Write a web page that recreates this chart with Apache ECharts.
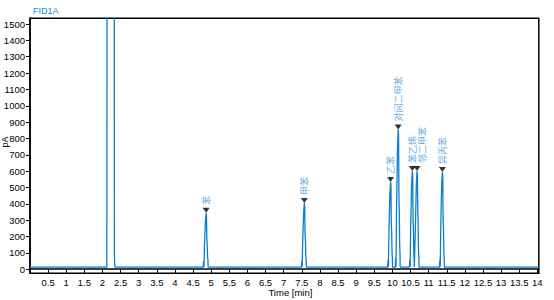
<!DOCTYPE html>
<html>
<head>
<meta charset="utf-8">
<script src="https://cdn.jsdelivr.net/npm/echarts@6/dist/echarts.min.js"></script>
<style>html,body{margin:0;padding:0;background:#fff}#c{width:554px;height:300px}</style>
</head>
<body>
<div id="c"></div>
<script>
// Chromatogram trace: [time (min), signal (pA)]
var signal = [
  [0, 13], [2.12, 13], [2.13, 3000], [2.32, 3000], [2.33, 100], [2.335, 40], [2.34, 15], [2.36, 13],
  [4.78, 13], [4.79, 50], [4.80, 13], [4.815, 150], [4.84, 290], [4.86, 345], [4.87, 320], [4.88, 180], [4.89, 150], [4.90, 70], [4.91, 60], [4.915, 13],
  [7.49, 13], [7.50, 50], [7.51, 13], [7.525, 170], [7.55, 340], [7.57, 405], [7.58, 380], [7.59, 210], [7.60, 180], [7.61, 80], [7.62, 60], [7.625, 13],
  [9.87, 13], [9.88, 60], [9.89, 13], [9.905, 230], [9.93, 460], [9.95, 534], [9.96, 510], [9.97, 280], [9.98, 230], [9.99, 100], [10.0, 70], [10.005, 13],
  [10.08, 13], [10.09, 70], [10.10, 13], [10.115, 370], [10.14, 740], [10.16, 855], [10.17, 820], [10.18, 450], [10.19, 360], [10.20, 150], [10.21, 100], [10.215, 13],
  [10.47, 13], [10.48, 60], [10.49, 13], [10.505, 260], [10.53, 520], [10.55, 601], [10.56, 575], [10.57, 310], [10.58, 260], [10.59, 110], [10.60, 60], [10.605, 13],
  [10.615, 13], [10.635, 260], [10.66, 520], [10.68, 601], [10.69, 575], [10.70, 360], [10.71, 300], [10.72, 120], [10.73, 70], [10.735, 13],
  [11.30, 13], [11.31, 60], [11.32, 13], [11.335, 260], [11.36, 515], [11.38, 595], [11.39, 570], [11.40, 300], [11.41, 250], [11.42, 100], [11.43, 60], [11.435, 13],
  [14.04, 13]
];
// Identified peaks
var peakNames = ['苯', '甲苯', '乙苯', '对间二甲苯', '苯乙烯', '邻二甲苯', '异丙苯'];
var peakTimes = [4.86, 7.57, 9.95, 10.16, 10.55, 10.68, 11.38];
var peakHeights = [345, 405, 534, 855, 601, 601, 595];
// Tick labels
var xTicks = [0.5, 1, 1.5, 2, 2.5, 3, 3.5, 4, 4.5, 5, 5.5, 6, 6.5, 7, 7.5, 8, 8.5, 9, 9.5, 10, 10.5, 11, 11.5, 12, 12.5, 13, 13.5, 14];
var yTicks = [0, 100, 200, 300, 400, 500, 600, 700, 800, 900, 1000, 1100, 1200, 1300, 1400, 1500];
var yAxisTitle = 'pA';

var lineColor = '#0b7fcf';
var labelColor = '#3a96dc';
var axisFont = 'Liberation Sans, Arial, sans-serif';

var markerData = peakNames.map(function (n, i) {
  var item = { value: [peakTimes[i], peakHeights[i]], name: n };
  // offset is in the label's rotated frame: [along text, across text]
  if (n === '邻二甲苯') item.label = { offset: [0, 5] };
  return item;
});

var chart = echarts.init(document.getElementById('c'), null, { renderer: 'svg' });
chart.setOption({
  animation: false,
  backgroundColor: '#ffffff',
  title: {
    text: 'FID1A', left: 33, top: 6, padding: 0,
    textStyle: { color: '#1a8ad4', fontSize: 9, fontWeight: 'normal', fontFamily: axisFont }
  },
  graphic: [{
    type: 'text', x: 5, y: 142, rotation: Math.PI / 2,
    style: { text: yAxisTitle, fill: '#000', fontSize: 9, fontFamily: axisFont, align: 'center', verticalAlign: 'middle' }
  }],
  grid: {
    left: 30, right: 15.2, top: 18.3, bottom: 26.7,
    containLabel: false, outerBoundsMode: 'none',
    show: true, borderColor: '#000', borderWidth: 1.5, backgroundColor: 'transparent'
  },
  xAxis: {
    type: 'value', min: 0, max: 14.04,
    name: 'Time [min]', nameLocation: 'middle', nameGap: 14, nameMoveOverlap: false,
    nameTextStyle: { color: '#000', fontSize: 9.5, lineHeight: 10, fontFamily: axisFont, padding: [0, 0, 0, 12] },
    axisLine: { show: true, lineStyle: { color: '#000', width: 1.5 } },
    axisTick: { show: true, length: 4, lineStyle: { color: '#000' }, customValues: xTicks },
    axisLabel: { color: '#000', fontSize: 9.5, lineHeight: 10, fontFamily: axisFont, margin: 4, customValues: xTicks,
      formatter: function (v) { return String(v); } },
    splitLine: { show: false }
  },
  yAxis: {
    type: 'value', min: -25, max: 1535,
    axisLine: { show: true, lineStyle: { color: '#000', width: 1.5 } },
    axisTick: { show: true, length: 4, lineStyle: { color: '#000' }, customValues: yTicks },
    axisLabel: { color: '#000', fontSize: 9.5, lineHeight: 10, fontFamily: axisFont, margin: 5, customValues: yTicks,
      formatter: function (v) { return String(v); } },
    splitLine: { show: false }
  },
  series: [
    {
      type: 'line', data: signal, showSymbol: false, symbol: 'none', clip: true,
      lineStyle: { color: lineColor, width: 1.3 }, z: 2
    },
    {
      type: 'scatter', data: markerData,
      symbol: 'path://M0,0 L10,0 L5,7 Z', symbolSize: [7, 5], symbolOffset: [0, '-50%'],
      itemStyle: { color: '#000' }, z: 3,
      label: {
        show: true, position: 'top', distance: 3, rotate: 90,
        align: 'left', verticalAlign: 'middle',
        formatter: function (p) { return p.name; },
        color: labelColor, fontSize: 9, fontFamily: 'Noto Sans CJK SC'
      }
    }
  ]
});
</script>
</body>
</html>
